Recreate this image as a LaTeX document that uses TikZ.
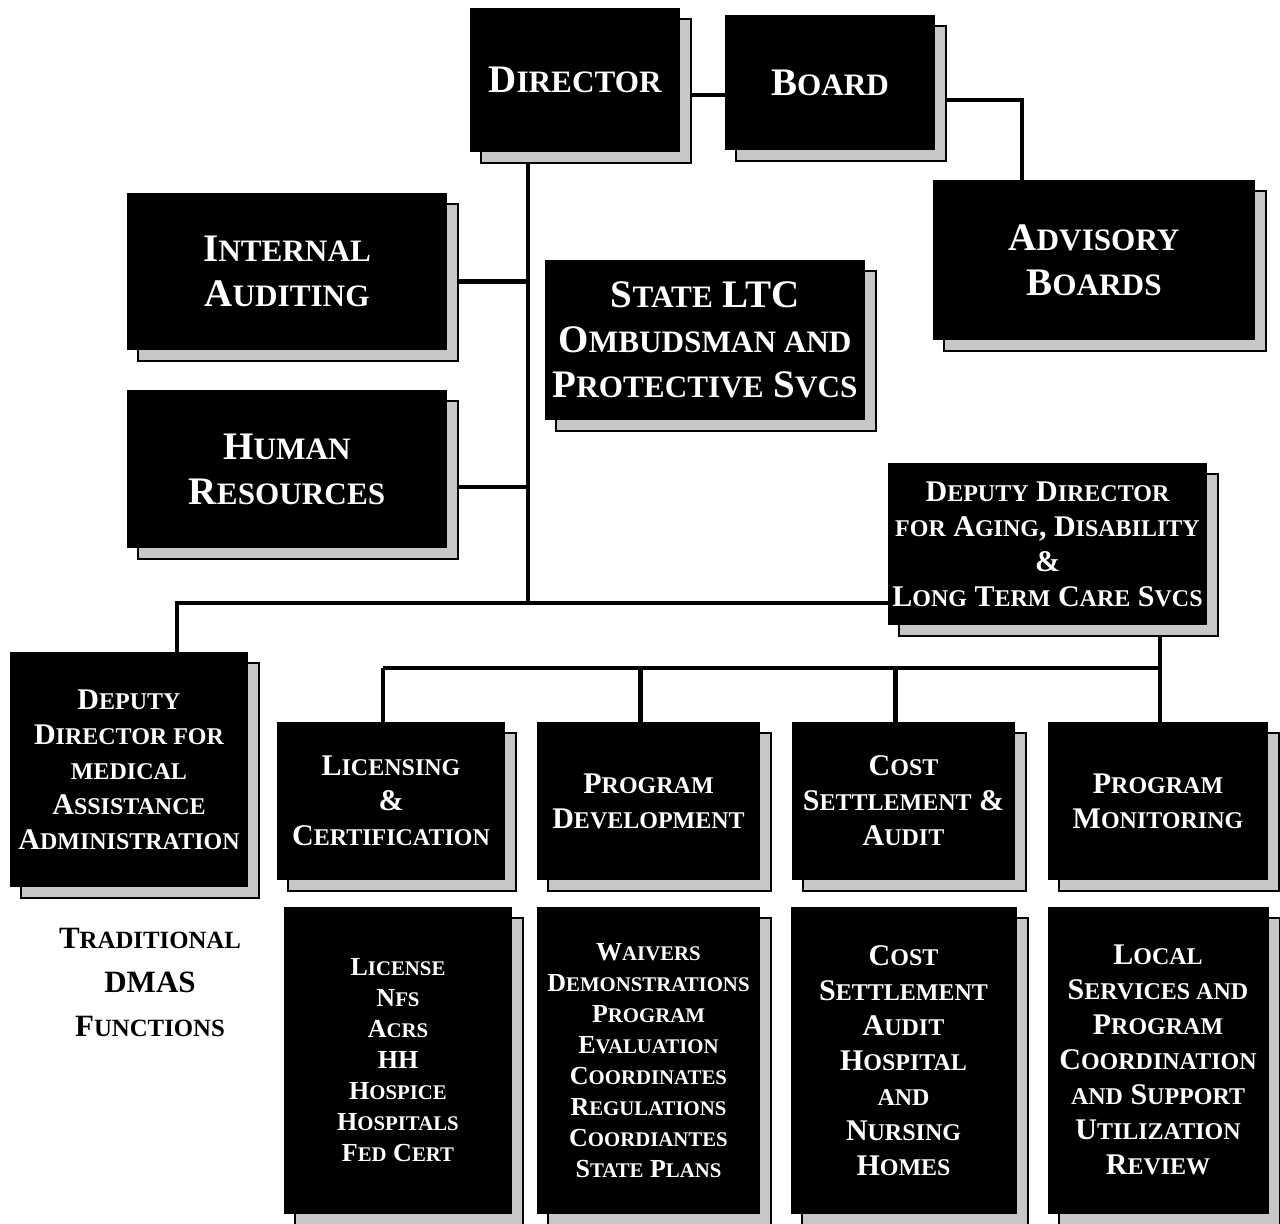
\documentclass[tikz,border=0pt]{standalone}
\usepackage{fontspec}
\setmainfont{Liberation Serif}
\usetikzlibrary{positioning,shadows,backgrounds}

% small capitals made by hand (no bold small caps in the font)
\makeatletter
\newcommand\lc[1]{{\@tempdima=\f@size pt\relax
  \fontsize{0.8\@tempdima}{\baselineskip}\selectfont\MakeUppercase{#1}}}
\makeatother

\begin{document}
\begin{tikzpicture}[
    x=0.5pt, y=-0.5pt,
    box/.style={
        rectangle, fill=black, text=white, align=center, inner sep=2pt,
        font=\bfseries\fontsize{19.5}{22.5}\selectfont,
        general shadow={fill=black!22, draw=black, line width=1pt,
            shadow xshift=5.5pt, shadow yshift=-5.5pt}
    },
    mid/.style={font=\bfseries\fontsize{15}{17.5}\selectfont},
    low/.style={font=\bfseries\fontsize{13}{15.5}\selectfont},
    wh/.style 2 args={minimum width=#1*0.5pt, minimum height=#2*0.5pt},
    link/.style={line width=2.4pt, color=black}
]
    \useasboundingbox (0,0) rectangle (1280,1224);

    % top level
    \node[box, wh={210}{144}] (dir) at (575,80) {D\lc{irector}};
    \node[box, wh={210}{135}] (board) at (830,82.5) {B\lc{oard}};
    \node[box, wh={322}{160}] (adv) at (1094,260) {A\lc{dvisory}\\B\lc{oards}};
    \node[box, wh={320}{157}] (ia) at (287,271.5) {I\lc{nternal}\\A\lc{uditing}};
    \node[box, wh={320}{160}] (ltc) at (705,340)
        {S\lc{tate} LTC\\O\lc{mbudsman and}\\P\lc{rotective} S\lc{vcs}};
    \node[box, wh={320}{158}] (hr) at (287,469) {H\lc{uman}\\R\lc{esources}};

    % deputies
    \node[box, mid, wh={315}{162}] (dda) at (1047.5,544)
        {D\lc{eputy} D\lc{irector}\\\lc{for} A\lc{ging}, D\lc{isability}\\\&\\L\lc{ong} T\lc{erm} C\lc{are} S\lc{vcs}};
    \node[box, mid, wh={238}{235}] (ddm) at (129,769.5)
        {D\lc{eputy}\\D\lc{irector for}\\\lc{medical}\\A\lc{ssistance}\\A\lc{dministration}};
    \node[font=\bfseries\fontsize{15.5}{22}\selectfont, align=center] (trad) at (150,982)
        {T\lc{raditional}\\DMAS\\F\lc{unctions}};

    % divisions
    \node[box, mid, wh={228}{158}] (lic) at (391,801) {L\lc{icensing}\\\&\\C\lc{ertification}};
    \node[box, mid, wh={223}{158}] (pd) at (648.5,801) {P\lc{rogram}\\D\lc{evelopment}};
    \node[box, mid, wh={223}{158}] (cs) at (903.5,801) {C\lc{ost}\\S\lc{ettlement} \&\\A\lc{udit}};
    \node[box, mid, wh={220}{158}] (pm) at (1158,801) {P\lc{rogram}\\M\lc{onitoring}};

    % functions under each division
    \node[box, low, wh={228}{307}, below=13pt of lic, xshift=3.5pt] (licf)
        {L\lc{icense}\\N\lc{fs}\\A\lc{crs}\\HH\\H\lc{ospice}\\H\lc{ospitals}\\F\lc{ed} C\lc{ert}};
    \node[box, low, wh={223}{307}, below=13pt of pd] (pdf)
        {W\lc{aivers}\\D\lc{emonstrations}\\P\lc{rogram}\\E\lc{valuation}\\C\lc{oordinates}\\R\lc{egulations}\\C\lc{oordiantes}\\S\lc{tate} P\lc{lans}};
    \node[box, mid, wh={226}{307}, below=13pt of cs] (csf)
        {C\lc{ost}\\S\lc{ettlement}\\A\lc{udit}\\H\lc{ospital}\\\lc{and}\\N\lc{ursing}\\H\lc{omes}};
    \node[box, mid, wh={221}{307}, below=13pt of pm] (pmf)
        {L\lc{ocal}\\S\lc{ervices and}\\P\lc{rogram}\\C\lc{oordination}\\\lc{and} S\lc{upport}\\U\lc{tilization}\\R\lc{eview}};

    \coordinate (trunk) at (528,603);
    \coordinate (fork) at (1160,668);

    \begin{scope}[on background layer]
        \draw[link] ([yshift=-7.5pt]dir.east) -- ([yshift=-7.5pt]dir.east -| board.west);
        \draw[link] ([yshift=-8.75pt]board.east) -| ([xshift=-36pt]adv.north);
        \draw[link] (dir.south -| trunk) -- (trunk);
        \draw[link] ([yshift=-5pt]ia.east) -- ([yshift=-5pt]ia.east -| trunk);
        \draw[link] ([yshift=-9pt]hr.east) -- ([yshift=-9pt]hr.east -| trunk);
        \draw[link] ([xshift=24pt]ddm.north) |- (dda.west |- trunk);
        \draw[link] (dda.south -| fork) -- (fork) -- ([xshift=-4pt]fork -| lic.north);
        \foreach \n in {lic,pd,cs}
            \draw[link] ([xshift=-4pt]\n.north) -- ([xshift=-4pt]\n.north |- fork);
        \draw[link] (pm.north -| fork) -- (fork);
    \end{scope}
\end{tikzpicture}
\end{document}
